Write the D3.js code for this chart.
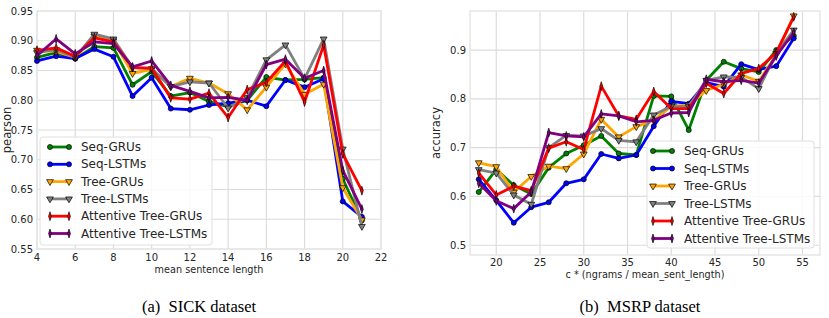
<!DOCTYPE html>
<html>
<head>
<meta charset="utf-8">
<script src="https://cdn.jsdelivr.net/npm/d3@7"></script>
<style>
  body { margin: 0; background: #fff; }
  text { font-family: "DejaVu Sans", sans-serif; fill: #262626; }
  .caption { font-family: "Liberation Serif", serif; fill: #000; white-space: pre; }
</style>
</head>
<body>
<svg id="fig" width="829" height="318"></svg>
<script>
// series names, colours and marker types
const series_names = ["Seq-GRUs", "Seq-LSTMs", "Tree-GRUs", "Tree-LSTMs", "Attentive Tree-GRUs", "Attentive Tree-LSTMs"];
const series_colors = ["green", "blue", "orange", "gray", "red", "purple"];
const series_markers = ["circle", "circle", "tri", "tri", "diamond", "diamond"];

// (a) SICK dataset
const sick_x = [4, 5, 6, 7, 8, 9, 10, 11, 12, 13, 14, 15, 16, 17, 18, 19, 20, 21];
const sick_seq_gru = [0.872, 0.880, 0.870, 0.890, 0.888, 0.826, 0.848, 0.807, 0.813, 0.798, 0.789, 0.800, 0.839, 0.834, 0.835, 0.838, 0.668, 0.598];
const sick_seq_lstm = [0.866, 0.874, 0.870, 0.886, 0.873, 0.807, 0.838, 0.786, 0.784, 0.792, 0.795, 0.800, 0.790, 0.834, 0.822, 0.836, 0.630, 0.604];
const sick_tree_gru = [0.884, 0.882, 0.872, 0.908, 0.900, 0.845, 0.852, 0.823, 0.837, 0.829, 0.811, 0.784, 0.822, 0.861, 0.810, 0.827, 0.653, 0.599];
const sick_tree_lstm = [0.880, 0.885, 0.872, 0.911, 0.903, 0.855, 0.853, 0.823, 0.831, 0.829, 0.787, 0.805, 0.868, 0.893, 0.836, 0.903, 0.718, 0.588];
const sick_att_gru = [0.884, 0.888, 0.874, 0.905, 0.898, 0.855, 0.854, 0.804, 0.802, 0.812, 0.771, 0.818, 0.830, 0.866, 0.797, 0.893, 0.710, 0.648];
const sick_att_lstm = [0.875, 0.903, 0.878, 0.898, 0.895, 0.856, 0.866, 0.825, 0.815, 0.804, 0.805, 0.800, 0.860, 0.869, 0.837, 0.850, 0.682, 0.617];
const sick_xticks = [4, 6, 8, 10, 12, 14, 16, 18, 20, 22];
const sick_yticks = [0.55, 0.60, 0.65, 0.70, 0.75, 0.80, 0.85, 0.90, 0.95];

// (b) MSRP dataset
const msrp_x = [18, 20, 22, 24, 26, 28, 30, 32, 34, 36, 38, 40, 42, 44, 46, 48, 50, 52, 54];
const msrp_seq_gru = [0.609, 0.655, 0.623, 0.605, 0.659, 0.688, 0.705, 0.724, 0.688, 0.685, 0.806, 0.805, 0.736, 0.838, 0.876, 0.862, 0.855, 0.900, 0.929];
const msrp_seq_lstm = [0.635, 0.592, 0.546, 0.578, 0.588, 0.627, 0.635, 0.687, 0.678, 0.685, 0.744, 0.795, 0.790, 0.833, 0.825, 0.871, 0.860, 0.867, 0.924];
const msrp_tree_gru = [0.669, 0.661, 0.609, 0.641, 0.662, 0.657, 0.687, 0.758, 0.722, 0.743, 0.756, 0.785, 0.787, 0.817, 0.830, 0.849, 0.836, 0.890, 0.970];
const msrp_tree_lstm = [0.655, 0.648, 0.603, 0.584, 0.700, 0.725, 0.724, 0.739, 0.715, 0.712, 0.767, 0.785, 0.784, 0.838, 0.845, 0.844, 0.821, 0.893, 0.941];
const msrp_att_gru = [0.648, 0.603, 0.621, 0.612, 0.699, 0.712, 0.696, 0.826, 0.765, 0.758, 0.815, 0.780, 0.780, 0.832, 0.811, 0.852, 0.862, 0.895, 0.968];
const msrp_att_lstm = [0.627, 0.591, 0.575, 0.609, 0.731, 0.724, 0.722, 0.769, 0.765, 0.753, 0.756, 0.771, 0.772, 0.840, 0.835, 0.838, 0.832, 0.888, 0.936];
const msrp_xticks = [20, 25, 30, 35, 40, 45, 50, 55];
const msrp_yticks = [0.5, 0.6, 0.7, 0.8, 0.9];

const svg = d3.select("#fig");

const symbols = {
  circle: d3.symbol().type(d3.symbolCircle).size(20),
  tri: d3.symbol().type(d3.symbolTriangle).size(20),
  diamond: d3.symbol().type(d3.symbolDiamond).size(16)
};

function drawMarker(sel, kind, color) {
  let tr = null;
  if (kind === "tri") tr = "rotate(180)";
  if (kind === "diamond") tr = "scale(0.65,1.2)";
  sel.append("path")
    .attr("d", symbols[kind]())
    .attr("transform", tr)
    .attr("fill", color)
    .attr("stroke", "#000")
    .attr("stroke-width", 0.7);
}

function drawChart(opts) {
  const g = svg.append("g");
  const x = d3.scaleLinear().domain(opts.xdom).range(opts.xr);
  const y = d3.scaleLinear().domain(opts.ydom).range(opts.yr);

  // grid
  g.append("g").selectAll("line").data(opts.xticks).join("line")
    .attr("x1", d => x(d)).attr("x2", d => x(d))
    .attr("y1", opts.yr[0]).attr("y2", opts.yr[1])
    .attr("stroke", "#dcdcdc").attr("stroke-width", 1.2);
  g.append("g").selectAll("line").data(opts.yticks).join("line")
    .attr("x1", opts.xr[0]).attr("x2", opts.xr[1])
    .attr("y1", d => y(d)).attr("y2", d => y(d))
    .attr("stroke", "#dcdcdc").attr("stroke-width", 1.2);
  g.append("rect")
    .attr("x", opts.xr[0]).attr("y", opts.yr[1])
    .attr("width", opts.xr[1] - opts.xr[0]).attr("height", opts.yr[0] - opts.yr[1])
    .attr("fill", "none").attr("stroke", "#e6e6e6").attr("stroke-width", 1.5);

  // tick labels
  g.append("g").selectAll("text").data(opts.xticks).join("text")
    .attr("x", d => x(d)).attr("y", opts.yr[0] + opts.xtickDy)
    .attr("text-anchor", "middle").attr("font-size", 10)
    .text(d => d);
  g.append("g").selectAll("text").data(opts.yticks).join("text")
    .attr("x", opts.xr[0] - 4).attr("y", d => y(d) + 3.5)
    .attr("text-anchor", "end").attr("font-size", 10)
    .text(d => d3.format(opts.yfmt)(d));

  g.append("text")
    .attr("x", (opts.xr[0] + opts.xr[1]) / 2).attr("y", opts.yr[0] + opts.xlabDy)
    .attr("text-anchor", "middle").attr("font-size", 9.7)
    .text(opts.xlabel);
  g.append("text")
    .attr("transform", "translate(" + opts.ylabX + "," + ((opts.yr[0] + opts.yr[1]) / 2) + ") rotate(-90)")
    .attr("text-anchor", "middle").attr("font-size", 11.5)
    .text(opts.ylabel);

  // lines
  const line = d3.line().x(d => x(d[0])).y(d => y(d[1]));
  opts.series.forEach((vals, i) => {
    const pts = opts.xs.map((xv, j) => [xv, vals[j]]);
    g.append("path").datum(pts)
      .attr("d", line)
      .attr("fill", "none")
      .attr("stroke", series_colors[i])
      .attr("stroke-width", 2.8)
      .attr("stroke-linejoin", "round");
    const m = g.append("g").selectAll("g").data(pts).join("g")
      .attr("transform", d => "translate(" + x(d[0]) + "," + y(d[1]) + ")");
    drawMarker(m, series_markers[i], series_colors[i]);
  });

  // legend
  const lg = g.append("g");
  lg.append("rect")
    .attr("x", opts.leg.x).attr("y", opts.leg.y)
    .attr("width", opts.leg.w).attr("height", opts.leg.h)
    .attr("rx", 3)
    .attr("fill", "#fff").attr("fill-opacity", 0.85)
    .attr("stroke", "#e0e0e0");
  series_names.forEach((name, i) => {
    const yy = opts.leg.y + 10 + i * opts.leg.step;
    const x0 = opts.leg.x + opts.leg.hx, x1 = x0 + 19;
    lg.append("line")
      .attr("x1", x0).attr("x2", x1).attr("y1", yy).attr("y2", yy)
      .attr("stroke", series_colors[i]).attr("stroke-width", 2.8);
    const mk = lg.append("g").selectAll("g").data([x0, x1]).join("g")
      .attr("transform", d => "translate(" + d + "," + yy + ")");
    drawMarker(mk, series_markers[i], series_colors[i]);
    lg.append("text")
      .attr("x", opts.leg.x + opts.leg.tx).attr("y", yy + 4)
      .attr("font-size", 12)
      .text(name);
  });
}

drawChart({
  xs: sick_x,
  series: [sick_seq_gru, sick_seq_lstm, sick_tree_gru, sick_tree_lstm, sick_att_gru, sick_att_lstm],
  xdom: [4, 22], ydom: [0.55, 0.95],
  xr: [37, 381], yr: [249, 11],
  xticks: sick_xticks, yticks: sick_yticks, yfmt: ".2f",
  xtickDy: 12, xlabDy: 24, ylabX: 11,
  xlabel: "mean sentence length", ylabel: "pearson",
  leg: {x: 40, y: 137, w: 172, h: 108, step: 17.3, hx: 10, tx: 41}
});

drawChart({
  xs: msrp_x,
  series: [msrp_seq_gru, msrp_seq_lstm, msrp_tree_gru, msrp_tree_lstm, msrp_att_gru, msrp_att_lstm],
  xdom: [17, 57], ydom: [0.48, 0.98],
  xr: [470, 820], yr: [255, 11],
  xticks: msrp_xticks, yticks: msrp_yticks, yfmt: ".1f",
  xtickDy: 11, xlabDy: 23, ylabX: 440,
  xlabel: "c * (ngrams / mean_sent_length)", ylabel: "accuracy",
  leg: {x: 647, y: 141, w: 167, h: 107, step: 17.5, hx: 6, tx: 37}
});

svg.append("text").attr("class", "caption")
  .attr("x", 199).attr("y", 312).attr("text-anchor", "middle").attr("font-size", 16.5)
  .text("(a)  SICK dataset");
svg.append("text").attr("class", "caption")
  .attr("x", 640).attr("y", 312).attr("text-anchor", "middle").attr("font-size", 16.5)
  .text("(b)  MSRP dataset");
</script>
</body>
</html>
